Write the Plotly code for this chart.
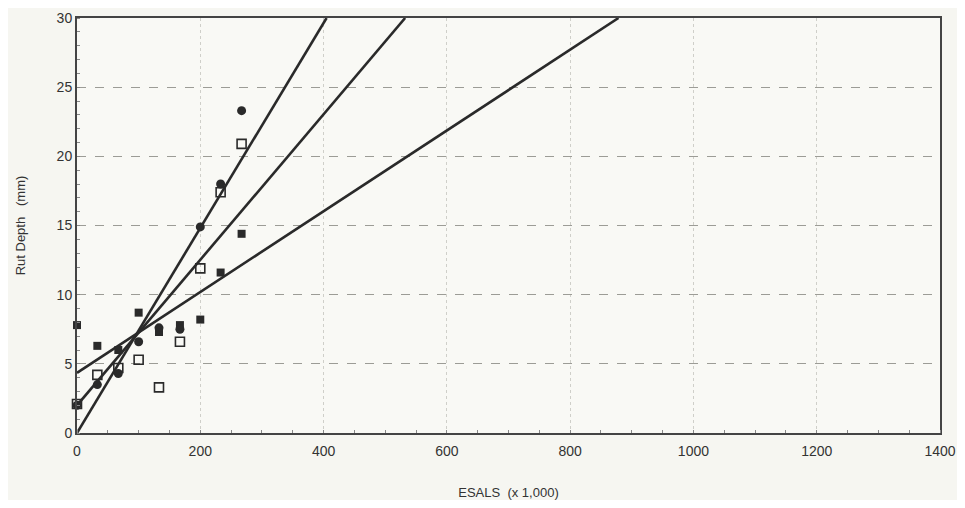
import plotly.graph_objects as go

# ESALs (x 1,000) for each measurement
esals = [0, 33, 67, 100, 133, 167, 200, 233, 267]

# Rut depth (mm) for three sections
rut_filled_circle = [2.0, 3.5, 4.3, 6.6, 7.6, 7.5, 14.9, 18.0, 23.3]
rut_open_square = [2.1, 4.2, 4.7, 5.3, 3.3, 6.6, 11.9, 17.4, 20.9]
rut_filled_square = [7.8, 6.3, 6.0, 8.7, 7.3, 7.8, 8.2, 11.6, 14.4]

# Regression lines: intercept (mm) and slope (mm per 1,000 ESALs)
line_intercepts = [0.0, 2.0, 4.35]
line_slopes = [0.0741, 0.0526, 0.0292]

x_ticks = [0, 200, 400, 600, 800, 1000, 1200, 1400]
y_ticks = [0, 5, 10, 15, 20, 25, 30]
y_max = 30

ink = "#2a2a2a"
fig = go.Figure()

for b, m in zip(line_intercepts, line_slopes):
    x_end = (y_max - b) / m
    fig.add_trace(go.Scatter(x=[0, x_end], y=[b, b + m * x_end], mode="lines",
                             line=dict(color=ink, width=2.6), showlegend=False,
                             hoverinfo="skip"))

fig.add_trace(go.Scatter(x=esals, y=rut_open_square, mode="markers",
                         marker=dict(symbol="square-open", size=9, color=ink,
                                     line=dict(width=1.6, color=ink)),
                         showlegend=False, cliponaxis=False))
fig.add_trace(go.Scatter(x=esals, y=rut_filled_square, mode="markers",
                         marker=dict(symbol="square", size=8, color=ink),
                         showlegend=False, cliponaxis=False))
fig.add_trace(go.Scatter(x=esals, y=rut_filled_circle, mode="markers",
                         marker=dict(symbol="circle", size=9, color=ink),
                         showlegend=False, cliponaxis=False))

font = dict(family="Liberation Sans, Arial, sans-serif", size=14, color="#333")
fig.update_layout(
    width=949, height=492,
    margin=dict(l=69, r=17, t=10, b=67),
    paper_bgcolor="#f6f6f1", plot_bgcolor="#f9f9f5",
    font=font,
)
fig.update_xaxes(
    range=[0, 1400], tickvals=x_ticks, ticktext=[str(v) for v in x_ticks],
    automargin=False, ticklabelstandoff=4,
    showline=True, linecolor="#444", linewidth=2, mirror=True,
    showgrid=True, gridcolor="#cfcfc9", gridwidth=1, griddash="dot",
    zeroline=False, ticks="", ticklen=0,
    minor=dict(ticks="inside", ticklen=3, tickcolor="#888", dtick=50, showgrid=False),
    title=dict(text="ESALS  (x 1,000)", font=dict(size=13, color="#333"), standoff=34),
)
fig.update_yaxes(
    range=[0, 30], tickvals=y_ticks,
    automargin=False,
    showline=True, linecolor="#444", linewidth=2, mirror=True,
    showgrid=True, gridcolor="#9c9c96", gridwidth=1.2, griddash="dash",
    zeroline=False, ticks="", ticklen=0,
    minor=dict(ticks="inside", ticklen=3, tickcolor="#888", dtick=1, showgrid=False),
    title=dict(text="Rut Depth   (mm)", font=dict(size=13, color="#333"), standoff=28),
)

fig.write_html("out.html")
